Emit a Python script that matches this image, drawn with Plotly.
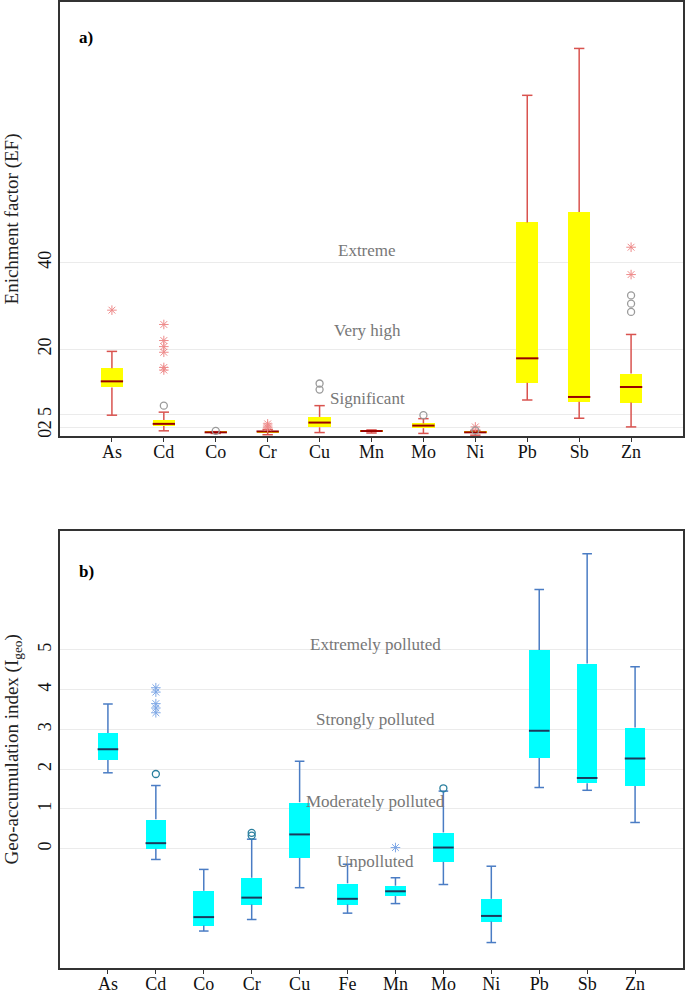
import plotly.graph_objects as go
from plotly.subplots import make_subplots

# ---- panel a: enrichment factor -------------------------------------------
ef_elements = ["As", "Cd", "Co", "Cr", "Cu", "Mn", "Mo", "Ni", "Pb", "Sb", "Zn"]
ef_low = [4.8, 1.2, 0.6, 0.3, 0.8, 0.7, 0.6, 0.2, 8.3, 4.1, 2.1]
ef_q1 = [11.2, 2.3, 0.75, 0.9, 2.0, 1.0, 1.8, 0.7, 12.3, 7.9, 7.7]
ef_median = [12.6, 2.8, 0.85, 1.05, 3.1, 1.15, 2.4, 0.85, 17.9, 9.0, 11.3]
ef_q3 = [15.6, 3.7, 0.95, 1.2, 4.4, 1.3, 2.9, 1.0, 49.2, 51.6, 14.4]
ef_high = [19.5, 5.5, 1.0, 1.5, 7.0, 1.4, 4.0, 1.3, 78.5, 89.3, 23.4]
ef_star_el = ["As", "Cd", "Cd", "Cd", "Cd", "Cd", "Cd", "Cr", "Cr", "Cr", "Ni", "Zn", "Zn"]
ef_star_val = [29.0, 25.7, 22.0, 20.6, 19.3, 15.8, 15.2, 2.8, 2.3, 1.9, 2.1, 43.5, 37.2]
ef_circle_el = ["Cd", "Co", "Cu", "Cu", "Mo", "Ni", "Zn", "Zn", "Zn"]
ef_circle_val = [7.0, 1.2, 12.1, 10.7, 4.8, 1.3, 32.4, 30.5, 28.6]
ef_ticks = [0, 2, 5, 20, 40]
ef_classes = ["Extreme", "Very high", "Significant"]
ef_class_y = [42.8, 24.4, 8.7]

# ---- panel b: geo-accumulation index --------------------------------------
igeo_elements = ["As", "Cd", "Co", "Cr", "Cu", "Fe", "Mn", "Mo", "Ni", "Pb", "Sb", "Zn"]
igeo_low = [1.91, -0.27, -2.07, -1.78, -0.98, -1.62, -1.38, -0.90, -2.36, 1.54, 1.47, 0.66]
igeo_q1 = [2.23, 0.0, -1.93, -1.40, -0.23, -1.40, -1.19, -0.33, -1.83, 2.28, 1.65, 1.58]
igeo_median = [2.50, 0.14, -1.72, -1.23, 0.36, -1.26, -1.07, 0.03, -1.69, 2.97, 1.78, 2.27]
igeo_q3 = [2.91, 0.74, -1.06, -0.73, 1.17, -0.87, -0.93, 0.41, -1.26, 5.0, 4.66, 3.05]
igeo_high = [3.64, 1.59, -0.52, 0.24, 2.20, -0.39, -0.73, 1.45, -0.44, 6.52, 7.42, 4.58]
igeo_star_el = ["Cd", "Cd", "Cd", "Cd", "Cd", "Mn"]
igeo_star_val = [4.05, 3.94, 3.65, 3.54, 3.42, 0.03]
igeo_circle_el = ["Cd", "Cr", "Cr", "Mo"]
igeo_circle_val = [1.88, 0.40, 0.33, 1.52]
igeo_ticks = [0, 1, 2, 3, 4, 5]
igeo_classes = ["Extremely polluted", "Strongly polluted", "Moderately polluted", "Unpolluted"]
igeo_class_y = [5.14, 3.24, 1.20, -0.31]

FONT = "Liberation Serif, 'Times New Roman', Times, 'DejaVu Serif', serif"
BOX_W = 0.43
CAP = 0.1


def add_panel(fig, row, names, low, q1, med, q3, high, star_el, star_val,
              circle_el, circle_val, fill, whisker, median_col, star_col, circle_col):
    idx = list(range(len(names)))
    fig.add_trace(go.Bar(
        x=idx, y=[b - a for a, b in zip(q1, q3)], base=q1, width=BOX_W,
        marker=dict(color=fill, line=dict(width=0)), hoverinfo="skip",
    ), row=row, col=1)

    wx, wy = [], []
    for i in idx:
        wx += [i, i, None, i, i, None, i - CAP, i + CAP, None, i - CAP, i + CAP, None]
        wy += [q3[i], high[i], None, q1[i], low[i], None,
               high[i], high[i], None, low[i], low[i], None]
    fig.add_trace(go.Scatter(x=wx, y=wy, mode="lines",
                             line=dict(color=whisker, width=1.5), hoverinfo="skip"),
                  row=row, col=1)

    mx, my = [], []
    for i in idx:
        mx += [i - BOX_W / 2, i + BOX_W / 2, None]
        my += [med[i], med[i], None]
    fig.add_trace(go.Scatter(x=mx, y=my, mode="lines",
                             line=dict(color=median_col, width=2), hoverinfo="skip"),
                  row=row, col=1)

    fig.add_trace(go.Scatter(
        x=[names.index(e) for e in star_el], y=star_val, mode="markers",
        marker=dict(symbol="asterisk-open", size=8, color=star_col,
                    line=dict(color=star_col, width=1)),
    ), row=row, col=1)
    fig.add_trace(go.Scatter(
        x=[names.index(e) for e in circle_el], y=circle_val, mode="markers",
        marker=dict(symbol="circle-open", size=7, color=circle_col,
                    line=dict(color=circle_col, width=1.3)),
    ), row=row, col=1)


fig = make_subplots(rows=2, cols=1, vertical_spacing=0.098)

add_panel(fig, 1, ef_elements, ef_low, ef_q1, ef_median, ef_q3, ef_high,
          ef_star_el, ef_star_val, ef_circle_el, ef_circle_val,
          "#ffff00", "#d9534f", "#990000", "#ee8a8a", "#9a9a9a")
add_panel(fig, 2, igeo_elements, igeo_low, igeo_q1, igeo_median, igeo_q3, igeo_high,
          igeo_star_el, igeo_star_val, igeo_circle_el, igeo_circle_val,
          "#00ffff", "#4a7cc4", "#1b3a5c", "#7fa8e6", "#2a7f9e")

for row, names in [(1, ef_elements), (2, igeo_elements)]:
    fig.update_xaxes(
        row=row, col=1, range=[-1, len(names)],
        tickvals=list(range(len(names))), ticktext=names,
        ticks="outside", ticklen=4, tickcolor="#333", ticklabelstandoff=-5,
        showgrid=False, zeroline=False, automargin=False,
        showline=True, mirror=True, linecolor="#333", linewidth=1.5,
        tickfont=dict(family=FONT, size=18, color="#111"),
    )

fig.update_yaxes(
    row=1, col=1, range=[0, 100], tickvals=ef_ticks, tickangle=-90,
    title=dict(text="Enichment factor (EF)", font=dict(family=FONT, size=19, color="#222"),
               standoff=11),
)
fig.update_yaxes(
    row=2, col=1, range=[-3, 8], tickvals=igeo_ticks, tickangle=-90,
    title=dict(text="Geo-accumulation index (I<sub>geo</sub>)",
               font=dict(family=FONT, size=19, color="#222"), standoff=11),
)
fig.update_yaxes(
    showgrid=True, gridcolor="#ebebeb", gridwidth=1, zeroline=False, automargin=False,
    showline=True, mirror=True, linecolor="#333", linewidth=1.5,
    tickfont=dict(family=FONT, size=18, color="#111"),
)

for text, y in zip(ef_classes, ef_class_y):
    fig.add_annotation(x=4.92, y=y, xref="x", yref="y", text=text, showarrow=False,
                       font=dict(family=FONT, size=17, color="#777"))
for text, y in zip(igeo_classes, igeo_class_y):
    fig.add_annotation(x=5.58, y=y, xref="x2", yref="y2", text=text, showarrow=False,
                       font=dict(family=FONT, size=17, color="#777"))

fig.add_annotation(x=0.027, y=0.945, xref="x domain", yref="y domain", text="<b>a)</b>",
                   showarrow=False, xanchor="left", font=dict(family=FONT, size=17, color="#000"))
fig.add_annotation(x=0.027, y=0.933, xref="x2 domain", yref="y2 domain", text="<b>b)</b>",
                   showarrow=False, xanchor="left", font=dict(family=FONT, size=17, color="#000"))

fig.update_layout(
    width=685, height=995,
    margin=dict(l=60, r=2, t=2, b=27),
    paper_bgcolor="white", plot_bgcolor="white",
    showlegend=False, bargap=0,
    font=dict(family=FONT),
)
fig.update_layout(yaxis=dict(domain=[0.5507, 1.0]), yaxis2=dict(domain=[0.0, 0.4527]))

# the page body has a default 8px margin; drop it so the figure sits at 0,0
fig.write_html("out.html", config={"displayModeBar": False},
               post_script="document.body.style.margin='0';")
